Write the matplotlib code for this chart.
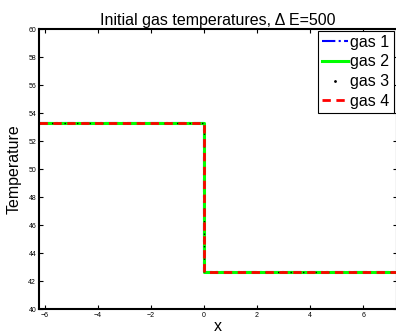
import matplotlib
matplotlib.use("Agg")
import matplotlib.pyplot as plt
from matplotlib.lines import Line2D

plt.rcParams['font.family'] = ['Liberation Sans', 'DejaVu Sans']

# data: step profile, identical for all gases
x_vals = [-6.23, 0.0, 0.0, 7.28]
t_high = 53.26
t_low = 42.62
temps = [t_high, t_high, t_low, t_low]
gas_labels = ["gas 1", "gas 2", "gas 3", "gas 4"]
xticks = [-6, -4, -2, 0, 2, 4, 6]
yticks = list(range(40, 61, 2))

fig = plt.figure(figsize=(3.96, 3.35), dpi=100)
ax = fig.add_axes([39/396, 26/335, 358/396, 280/335])

ax.plot(x_vals, temps, color='blue', ls='-.', lw=1.5)
ax.plot(x_vals, temps, color='#00ff00', ls='-', lw=2.2)
ax.plot(x_vals, temps, color='black', ls=(0, (1, 8)), lw=1.0)
ax.plot(x_vals, temps, color='red', ls=(0, (3, 2)), lw=2.0)

ax.set_xlim(-6.23, 7.28)
ax.set_ylim(40, 60)
ax.set_xticks(xticks)
ax.set_yticks(yticks)
ax.tick_params(direction='in', top=True, right=True, labelsize=5, length=3, width=0.8, pad=2)
for s in ax.spines.values():
    s.set_linewidth(1.5)

ax.set_title("Initial gas temperatures, Δ E=500", fontsize=11.5, pad=3)
ax.set_xlabel("x", fontsize=11.5, labelpad=0)
ax.set_ylabel("Temperature", fontsize=11.5, labelpad=5)

handles = [
    Line2D([], [], color='blue', ls='-.', lw=1.5),
    Line2D([], [], color='#00ff00', ls='-', lw=2.2),
    Line2D([], [], color='black', ls='none', marker='.', markersize=2),
    Line2D([], [], color='red', ls=(0, (3, 2)), lw=2.0),
]
leg = ax.legend(handles, gas_labels, loc='upper right', fontsize=11.5, handlelength=1.6,
                handletextpad=0.15, borderpad=0.25, labelspacing=0.3, borderaxespad=0.1,
                fancybox=False, framealpha=1, bbox_to_anchor=(0.995, 1.0))
leg.get_frame().set_edgecolor('black')
leg.get_frame().set_linewidth(0.8)

fig.savefig("out.png", dpi=100)
